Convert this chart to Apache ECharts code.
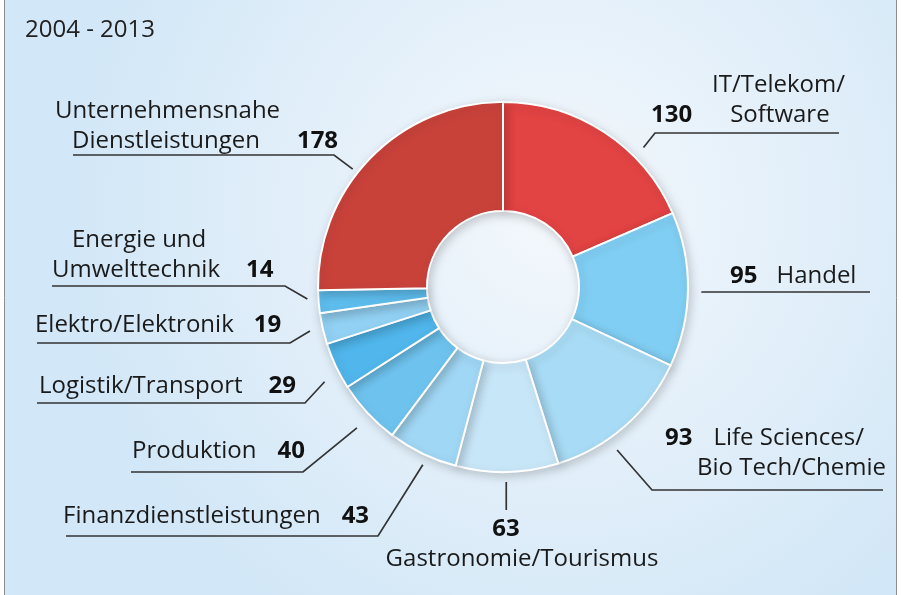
<!DOCTYPE html>
<html>
<head>
<meta charset="utf-8">
<script src="https://cdn.jsdelivr.net/npm/echarts@6/dist/echarts.min.js"></script>
<style>
  html, body { margin: 0; padding: 0; background: #fff; }
  #chart { width: 903px; height: 595px; }
</style>
</head>
<body>
<div id="chart"></div>
<script>
// data, clockwise from 12 o'clock
const categories = [
  'IT/Telekom/\nSoftware',
  'Handel',
  'Life Sciences/\nBio Tech/Chemie',
  'Gastronomie/Tourismus',
  'Finanzdienstleistungen',
  'Produktion',
  'Logistik/Transport',
  'Elektro/Elektronik',
  'Energie und\nUmwelttechnik',
  'Unternehmensnahe\nDienstleistungen'
]
const values = [130, 95, 93, 63, 43, 40, 29, 19, 14, 178]
const period = '2004 - 2013'

// styles
const sliceColors = ['#e24343', '#80cef3', '#a8dbf5', '#c7e6f8', '#a0d7f4', '#6ec3ee', '#50b6eb', '#92d1f3', '#5ebeee', '#c8423a']
const center = [503, 287]
const radius = [76, 185]
const font = 'Open Sans'

// label placement: box top-left, template (%1/%2 = name lines, %v = value),
// underline [x1, x2, y], side where the leader meets it, and where the leader leaves the slice
const labelSpec = [
  { x: 651, y: 70, tpl: '{s61|}{t|%1}\n{n|%v}{s38|}{t|%2}', ul: [655, 839, 133], side: 'left', frac: 0.68, dist: 198 },
  { x: 730, y: 261, tpl: '{n|%v}{s19|}{t|%1}', ul: [702, 870, 292], side: 'left', frac: 0.51, dist: 199 },
  { x: 665, y: 423, tpl: '{n|%v}{s21|}{t|%1}\n{s32|}{t|%2}', ul: [652, 883, 490], side: 'left', frac: 0.63, dist: 199 },
  { x: 522, y: 514, align: 'center', tpl: '{n|%v}{s32|}\n{t|%1}', lineEnd: 510, frac: 0.51, dist: 195 },
  { x: 63, y: 501, tpl: '{t|%1}{s21|}{n|%v}', ul: [66, 378, 536], side: 'right', frac: 0.43, dist: 195 },
  { x: 132, y: 436, tpl: '{t|%1}{s21|}{n|%v}', ul: [131, 303, 472], side: 'right', frac: 0.45, dist: 203 },
  { x: 39, y: 371, tpl: '{t|%1}{s26|}{n|%v}', ul: [37, 305, 403], side: 'right', frac: 0.32, dist: 202 },
  { x: 35, y: 310, tpl: '{t|%1}{s20|}{n|%v}', ul: [37, 290, 343], side: 'right', frac: 0.52, dist: 198 },
  { x: 52, y: 225, tpl: '{s20|}{t|%1}\n{t|%2}{s26|}{n|%v}', ul: [52, 285, 286], side: 'right', frac: 0.65, dist: 196 },
  { x: 55, y: 96, tpl: '{t|%1}\n{s17|}{t|%2}{s37|}{n|%v}', ul: [73, 334, 155], side: 'right', frac: 0.43, dist: 191 }
]

const rich = {
  t: { fontSize: 24, fontFamily: font, color: '#1a1a1a', lineHeight: 30 },
  n: { fontSize: 24, fontFamily: font, fontWeight: 'bold', color: '#111', lineHeight: 30 }
}
labelSpec.forEach(function(s) {
  (s.tpl.match(/\{s(\d+)\|\}/g) || []).forEach(function(m) {
    const w = +m.slice(2, -2)
    rich['s' + w] = { width: w, lineHeight: 30 }
  })
})

const total = values.reduce(function(a, b) { return a + b }, 0)

function layoutLabel(params) {
  const i = params.dataIndex
  const s = labelSpec[i]
  let before = 0
  for (let k = 0; k < i; k++) before += values[k]
  const ang = (before + values[i] * s.frac) / total * Math.PI * 2
  const p0 = [center[0] + s.dist * Math.sin(ang), center[1] - s.dist * Math.cos(ang)]
  let pts
  if (!s.ul) {
    pts = [p0, [p0[0], (p0[1] + s.lineEnd) / 2], [p0[0], s.lineEnd]]
  } else {
    const near = s.side === 'right' ? s.ul[1] : s.ul[0]
    const far = s.side === 'right' ? s.ul[0] : s.ul[1]
    pts = [p0, [near, s.ul[2]], [far, s.ul[2]]]
  }
  return { x: s.x, y: s.y, align: s.align || 'left', verticalAlign: 'top', labelLinePoints: pts }
}

const myChart = echarts.init(document.getElementById('chart'), null, { renderer: 'canvas' })

const option = {
  animation: false,
  backgroundColor: '#fff',
  graphic: [
    {
      type: 'rect',
      z: -10,
      shape: { x: 4.5, y: -5, width: 892, height: 610 },
      style: {
        fill: new echarts.graphic.RadialGradient(0.62, 0.35, 0.8, [
          { offset: 0, color: '#f4f8fc' },
          { offset: 1, color: '#d2e7f7' }
        ]),
        stroke: '#8c8c8c',
        lineWidth: 1
      }
    }
  ],
  title: {
    text: period,
    left: 25,
    top: 15,
    padding: 0,
    textStyle: { fontSize: 24, fontWeight: 'normal', fontFamily: font, color: '#222', lineHeight: 30 }
  },
  series: [
    {
      type: 'pie',
      center: center,
      radius: radius,
      startAngle: 90,
      clockwise: true,
      avoidLabelOverlap: false,
      silent: true,
      itemStyle: {
        borderColor: '#fff',
        borderWidth: 2,
        shadowBlur: 10,
        shadowColor: 'rgba(0, 0, 0, 0.18)',
        shadowOffsetX: 2,
        shadowOffsetY: 3
      },
      label: {
        show: true,
        position: 'outside',
        fontFamily: font,
        rich: rich,
        formatter: function(p) {
          const lines = categories[p.dataIndex].split('\n')
          return labelSpec[p.dataIndex].tpl
            .replace('%v', p.value)
            .replace('%1', lines[0])
            .replace('%2', lines[1] || '')
        }
      },
      labelLine: {
        show: true,
        length: 10,
        length2: 10,
        lineStyle: { color: '#333', width: 1.7 }
      },
      labelLayout: layoutLabel,
      data: categories.map(function(name, i) {
        return { name: name, value: values[i], itemStyle: { color: sliceColors[i] } }
      })
    }
  ]
}

option && myChart.setOption(option)
</script>
</body>
</html>
